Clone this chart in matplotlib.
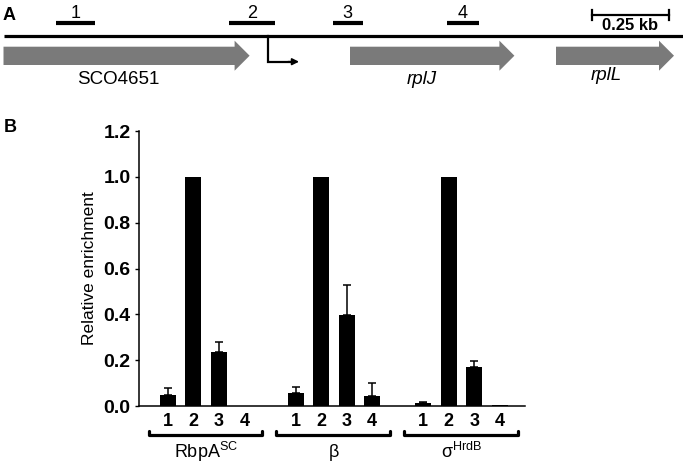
import numpy as np
import matplotlib
matplotlib.use("Agg")
import matplotlib.pyplot as plt
from matplotlib.patches import Polygon

plt.rcParams['font.family'] = ['Liberation Sans', 'DejaVu Sans']
plt.rcParams['mathtext.fontset'] = 'custom'
plt.rcParams['mathtext.rm'] = 'Liberation Sans'
plt.rcParams['mathtext.it'] = 'Liberation Sans:italic'
plt.rcParams['mathtext.bf'] = 'Liberation Sans:bold'

# ---- panel B data ----
regions = ['1', '2', '3', '4']
groups = ['RbpA$^{\\mathrm{SC}}$', 'β', 'σ$^{\\mathrm{HrdB}}$']
rbpa = [0.048, 1.0, 0.234, 0.002]
rbpa_err = [0.029, 0.0, 0.044, 0.0]
beta = [0.055, 1.0, 0.396, 0.044]
beta_err = [0.029, 0.0, 0.130, 0.055]
sigma = [0.014, 1.0, 0.171, 0.003]
sigma_err = [0.005, 0.0, 0.027, 0.0]

# ---- panel A gene map (map units = pixels along the map) ----
gene_names = ['SCO4651', 'rplJ', 'rplL']
gene_start = [3.5, 350, 556]
gene_end = [249.6, 514.4, 674]
gene_label_x = [118, 421.6, 606.4]
gene_label_style = ['normal', 'italic', 'italic']
amp_labels = ['1', '2', '3', '4']
amp_start = [55.6, 228.5, 332.7, 446.6]
amp_end = [95, 275, 362.5, 479.4]
promoter_x = 268
scale_bar = (592, 668.6)

fig = plt.figure(figsize=(6.83, 4.65), dpi=100)

# overlay axes in pixel units for panel A
ax_a = fig.add_axes([0, 0, 1, 1], zorder=-1)
ax_a.set_xlim(0, 683)
ax_a.set_ylim(465, 0)
ax_a.axis('off')

ax_a.text(9, 15, 'A', fontsize=13, fontweight='bold', ha='center', va='center')
ax_a.plot([3.5, 683], [35.7, 35.7], color='black', lw=2.3, solid_capstyle='butt')
for lab, s, e in zip(amp_labels, amp_start, amp_end):
    ax_a.plot([s, e], [23.3, 23.3], color='black', lw=3, solid_capstyle='butt')
    ax_a.text((s + e) / 2, 13.3, lab, fontsize=13, ha='center', va='center')

for name, s, e, lx, st in zip(gene_names, gene_start, gene_end, gene_label_x, gene_label_style):
    head = 15
    pts = [(s, 46.7), (e - head, 46.7), (e - head, 40.7), (e, 55.7),
           (e - head, 70.7), (e - head, 65), (s, 65)]
    ax_a.add_patch(Polygon(pts, closed=True, facecolor='#7a7a7a', edgecolor='none'))
    ly = 80 if name != 'rplL' else 75
    ax_a.text(lx, ly, name, fontsize=13.5, style=st, ha='center', va='center')

# promoter arrow
ax_a.plot([promoter_x, promoter_x, promoter_x + 22], [35.7, 61.7, 61.7], color='black',
          lw=1.6, solid_joinstyle='miter')
ax_a.annotate('', xy=(promoter_x + 31, 61.7), xytext=(promoter_x + 20, 61.7),
              arrowprops=dict(arrowstyle='-|>', color='black', lw=1.2,
                              mutation_scale=10, shrinkA=0, shrinkB=0))

# scale bar
ax_a.plot([scale_bar[0], scale_bar[1]], [15, 15], color='black', lw=1.6)
for x in scale_bar:
    ax_a.plot([x, x], [10, 20], color='black', lw=1.6)
ax_a.text(sum(scale_bar) / 2, 26, '0.25 kb', fontsize=12, fontweight='bold',
          ha='center', va='center')

ax_a.text(10, 127, 'B', fontsize=13, fontweight='bold', ha='center', va='center')

# ---- panel B ----
ax = fig.add_axes([139 / 683, 1 - 406 / 465, 386 / 683, 275 / 465])
series = [rbpa, beta, sigma]
errs = [rbpa_err, beta_err, sigma_err]
pos_all = []
for g, (vals, err) in enumerate(zip(series, errs)):
    pos = np.arange(len(regions)) + g * 5
    pos_all.extend(pos)
    ax.bar(pos, vals, width=0.62, color='black', zorder=2)
    vals = np.array(vals)
    err = np.array(err)
    m = err > 0
    ax.errorbar(pos[m], vals[m], yerr=[np.zeros(m.sum()), err[m]], fmt='none',
                ecolor='black', elinewidth=1.1, capsize=3, capthick=1.1, zorder=1)

ax.set_xlim(-1.13, 13.98)
ax.set_ylim(0, 1.2)
ax.set_yticks(np.arange(0, 1.21, 0.2))
ax.set_yticklabels(['%.1f' % v for v in np.arange(0, 1.21, 0.2)],
                   fontsize=14, fontweight='bold')
ax.set_xticks(pos_all)
ax.set_xticklabels(regions * 3, fontsize=13, fontweight='bold')
ax.tick_params(axis='x', length=0, pad=5)
ax.tick_params(axis='y', length=3, width=1, pad=3)
for sp in ['top', 'right']:
    ax.spines[sp].set_visible(False)
for sp in ['left', 'bottom']:
    ax.spines[sp].set_linewidth(1.1)
ax.set_ylabel('Relative enrichment', fontsize=12.5, labelpad=5)

tr = ax.get_xaxis_transform()
for g, name in enumerate(groups):
    c = 1.5 + g * 5
    x0, x1 = c - 2.25, c + 2.2
    ax.plot([x0, x0, x1, x1], [-0.092, -0.106, -0.106, -0.092], transform=tr,
            color='black', lw=2.3, clip_on=False, solid_joinstyle='round',
            solid_capstyle='round')
    ax.text(c, -0.168, name, transform=tr, fontsize=13, ha='center', va='center')

fig.savefig('out.png', dpi=100)
